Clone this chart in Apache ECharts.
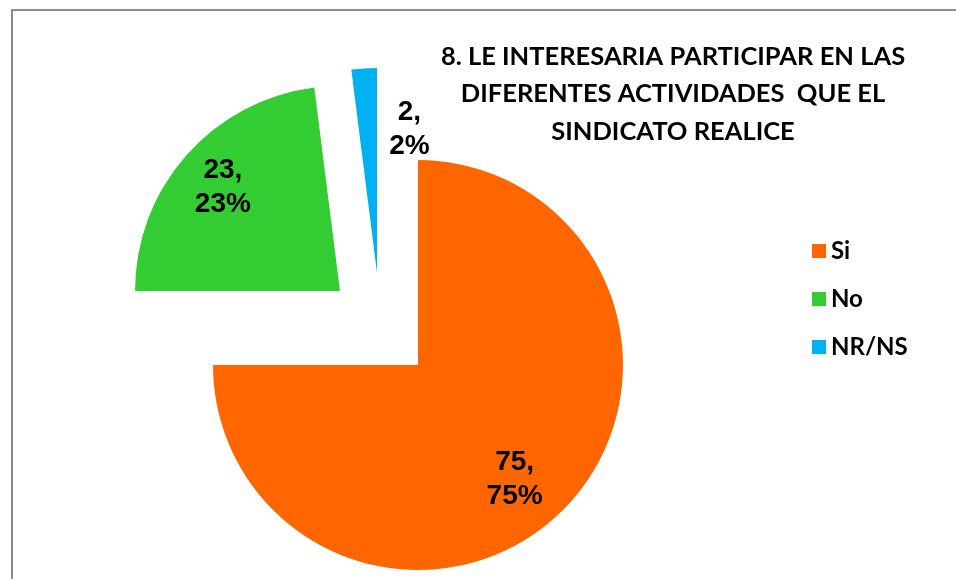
<!DOCTYPE html>
<html>
<head>
<meta charset="utf-8">
<script src="https://cdn.jsdelivr.net/npm/echarts@6/dist/echarts.min.js"></script>
<style>
html,body{margin:0;padding:0;background:#fff;}
#chart{width:956px;height:579px;}
</style>
</head>
<body>
<div id="chart"></div>
<script>
const titleText = "8. LE INTERESARIA PARTICIPAR EN LAS\nDIFERENTES ACTIVIDADES  QUE EL\nSINDICATO REALICE";
const categories = ["Si", "No", "NR/NS"];
const values = [75, 23, 2];
const colors = ["#FF6600", "#33CC33", "#00B0F0"];

// per-slice placement (exploded slices)
const centers = [[418, 365], [340, 291], [377, 273]];
const labelShift = [[22, 40], [-38, -34], [39, -38]];

const chart = echarts.init(document.getElementById('chart'), null, {renderer: 'canvas'});

const series = categories.map((cat, k) => ({
  type: 'pie',
  center: centers[k],
  radius: [0, 205],
  startAngle: 90,
  clockwise: true,
  avoidLabelOverlap: false,
  silent: true,
  labelLine: {show: false},
  label: {
    show: true,
    position: 'inside',
    formatter: '{c},\n{d}%',
    color: '#000',
    fontFamily: 'Liberation Sans',
    fontWeight: 'bold',
    fontSize: 28,
    lineHeight: 34
  },
  labelLayout: {dx: labelShift[k][0], dy: labelShift[k][1]},
  data: values.map((v, i) => i === k
    ? {name: cat, value: v, itemStyle: {color: colors[i]}}
    : {name: '', value: v, itemStyle: {color: 'rgba(0,0,0,0)'}, label: {show: false}})
}));

chart.setOption({
  animation: false,
  backgroundColor: '#fff',
  title: {
    text: titleText,
    left: 673,
    top: 38,
    padding: 0,
    textAlign: 'center',
    textStyle: {
      fontFamily: 'Lato',
      fontWeight: 'bold',
      fontSize: 25.5,
      lineHeight: 37.5,
      color: '#000'
    }
  },
  legend: {
    orient: 'vertical',
    left: 812,
    top: 239,
    padding: 0,
    itemGap: 24,
    itemWidth: 14,
    itemHeight: 14,
    icon: 'rect',
    selectedMode: false,
    data: categories.map((c, i) => ({name: c, itemStyle: {color: colors[i]}})),
    textStyle: {
      fontFamily: 'Lato',
      fontWeight: 'bold',
      fontSize: 24,
      lineHeight: 22,
      color: '#000'
    }
  },
  graphic: [{
    type: 'rect',
    shape: {x: 12, y: 10, width: 1000, height: 1000},
    style: {fill: 'none', stroke: '#8c8c8c', lineWidth: 2},
    silent: true
  }],
  series: series
});
</script>
</body>
</html>
